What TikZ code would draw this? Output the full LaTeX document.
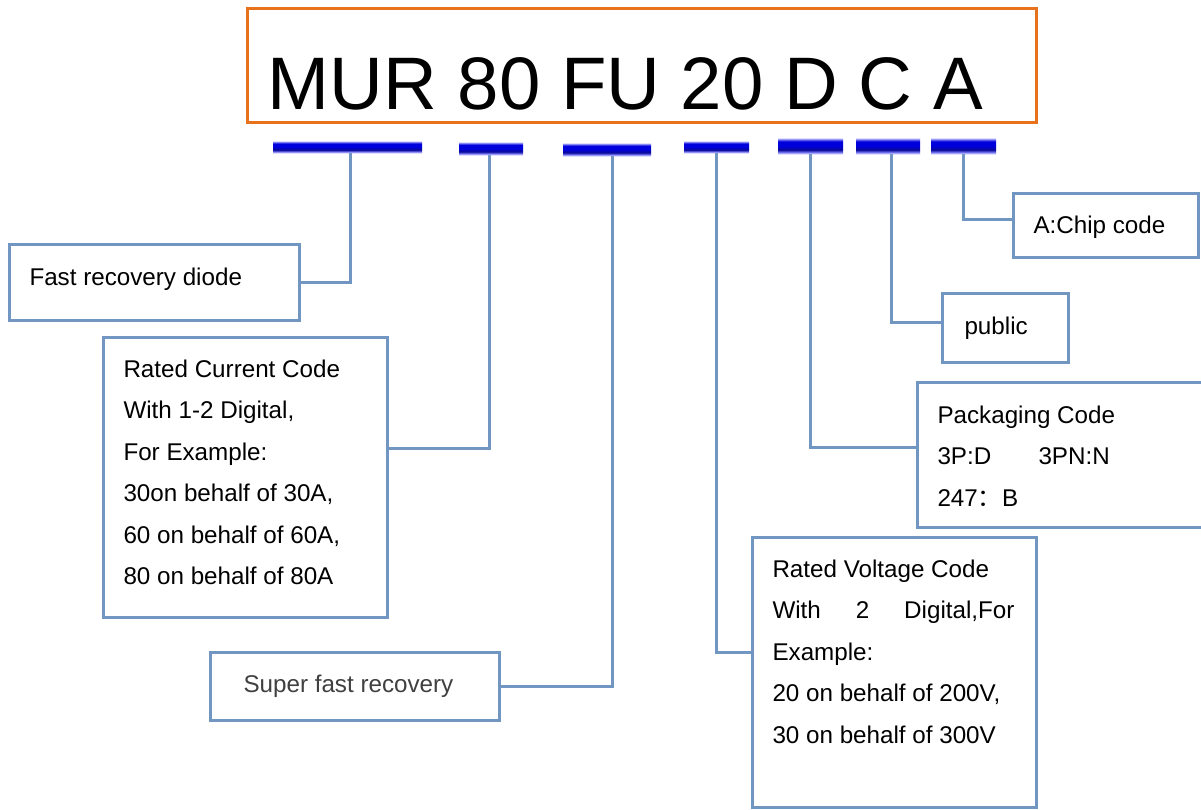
\documentclass[tikz,border=0pt]{standalone}
\usepackage{fontspec}
\setmainfont{Liberation Sans}
\newfontfamily\cjk{Noto Sans CJK SC}
\definecolor{orng}{RGB}{232,113,28}
\definecolor{boxblue}{RGB}{113,150,194}
\definecolor{txtgray}{RGB}{64,64,64}
\definecolor{barL}{RGB}{225,225,255}
\definecolor{barM}{RGB}{110,110,240}
\definecolor{barD}{RGB}{10,10,150}
\definecolor{barB}{RGB}{0,0,220}
\pgfdeclareverticalshading{barsh}{100bp}{color(0bp)=(barL); color(25bp)=(barL); color(31bp)=(barM); color(38bp)=(barD); color(50bp)=(barB); color(64bp)=(barB); color(70bp)=(barM); color(75bp)=(barL); color(100bp)=(barL)}
\begin{document}
\begin{tikzpicture}[x=1pt,y=-1pt,
  box/.style={draw=boxblue, line width=3pt, anchor=north west, inner sep=0pt, outer sep=0pt},
  conn/.style={draw=boxblue, line width=3pt},
  bar/.style={shading=barsh, anchor=north west, inner sep=0pt, outer sep=0pt},
  txt/.style={anchor=base west, inner sep=0pt, outer sep=0pt, font=\fontsize{24.2}{41.5}\selectfont}]
\useasboundingbox[fill=white] (0,0) rectangle (1201,809);

% title frame
\node[draw=orng, line width=3pt, anchor=north west, inner sep=0pt, outer sep=0pt,
      minimum width=789pt, minimum height=114pt] (frame) at (247,8) {};
\node[anchor=base west, inner sep=0pt, font=\fontsize{74.4}{80}\selectfont] (title) at (267.5,109) {MUR 80 FU 20 D C A};

% bars
\node[bar, minimum width=149pt, minimum height=12pt] (b1) at (273,141) {};
\node[bar, minimum width=64pt, minimum height=13pt] (b2) at (459,142) {};
\node[bar, minimum width=88pt, minimum height=13pt] (b3) at (563,143) {};
\node[bar, minimum width=65pt, minimum height=12pt] (b4) at (684,141) {};
\node[bar, minimum width=65pt, minimum height=16pt] (b5) at (778,138) {};
\node[bar, minimum width=64pt, minimum height=16pt] (b6) at (856,138) {};
\node[bar, minimum width=65pt, minimum height=16pt] (b7) at (931,138) {};

% boxes
\node[box, minimum width=290pt, minimum height=76pt] (box1) at (9,244) {};
\node[box, minimum width=284pt, minimum height=280pt] (box2) at (103,337) {};
\node[box, minimum width=289pt, minimum height=68pt] (box3) at (210,652) {};
\node[box, minimum width=284pt, minimum height=270pt] (box4) at (752,537) {};
\node[box, minimum width=300pt, minimum height=145pt] (box5) at (917,382) {};
\node[box, minimum width=126pt, minimum height=69pt] (box6) at (942,293) {};
\node[box, minimum width=185pt, minimum height=64pt] (box7) at (1013,193) {};

% texts
\node[txt] (t1) at (29.5,285) {Fast recovery diode};
\node[txt] (t2) at (123.5,377) {\vtop{\hbox{Rated Current Code}\hbox{With 1-2 Digital,}\hbox{For Example:}\hbox{30on behalf of 30A,}\hbox{60 on behalf of 60A,}\hbox{80 on behalf of 80A}}};
\node[txt, text=txtgray] (t3) at (243.5,692) {Super fast recovery};
\node[txt] (t4) at (772.5,577) {\vtop{\hbox{Rated Voltage Code}\hbox to 242pt{With\hfill 2\hfill Digital,For}\hbox{Example:}\hbox{20 on behalf of 200V,}\hbox{30 on behalf of 300V}}};
\node[txt] (t5) at (937.5,423) {\vtop{\hbox{Packaging Code}\hbox{\makebox[101pt][l]{3P:D}3PN:N}\hbox{247{\cjk ：}B}}};
\node[txt] (t6) at (964.5,334) {public};
\node[txt] (t7) at (1033.5,233) {A:Chip code};

% connectors
\draw[conn] ([xshift=2.5pt]b1.south) |- (box1.east);
\draw[conn] ([xshift=-2pt]b2.south) |- ([yshift=-111pt]box2.north east);
\draw[conn] ([xshift=5pt]b3.south) |- (box3.east);
\draw[conn] (b4.south) |- ([yshift=-115pt]box4.north west);
\draw[conn] (b5.south) |- ([yshift=-65pt]box5.north west);
\draw[conn] ([xshift=3pt]b6.south) |- ([yshift=-29pt]box6.north west);
\draw[conn] (b7.south) |- ([yshift=-26pt]box7.north west);
\end{tikzpicture}
\end{document}
